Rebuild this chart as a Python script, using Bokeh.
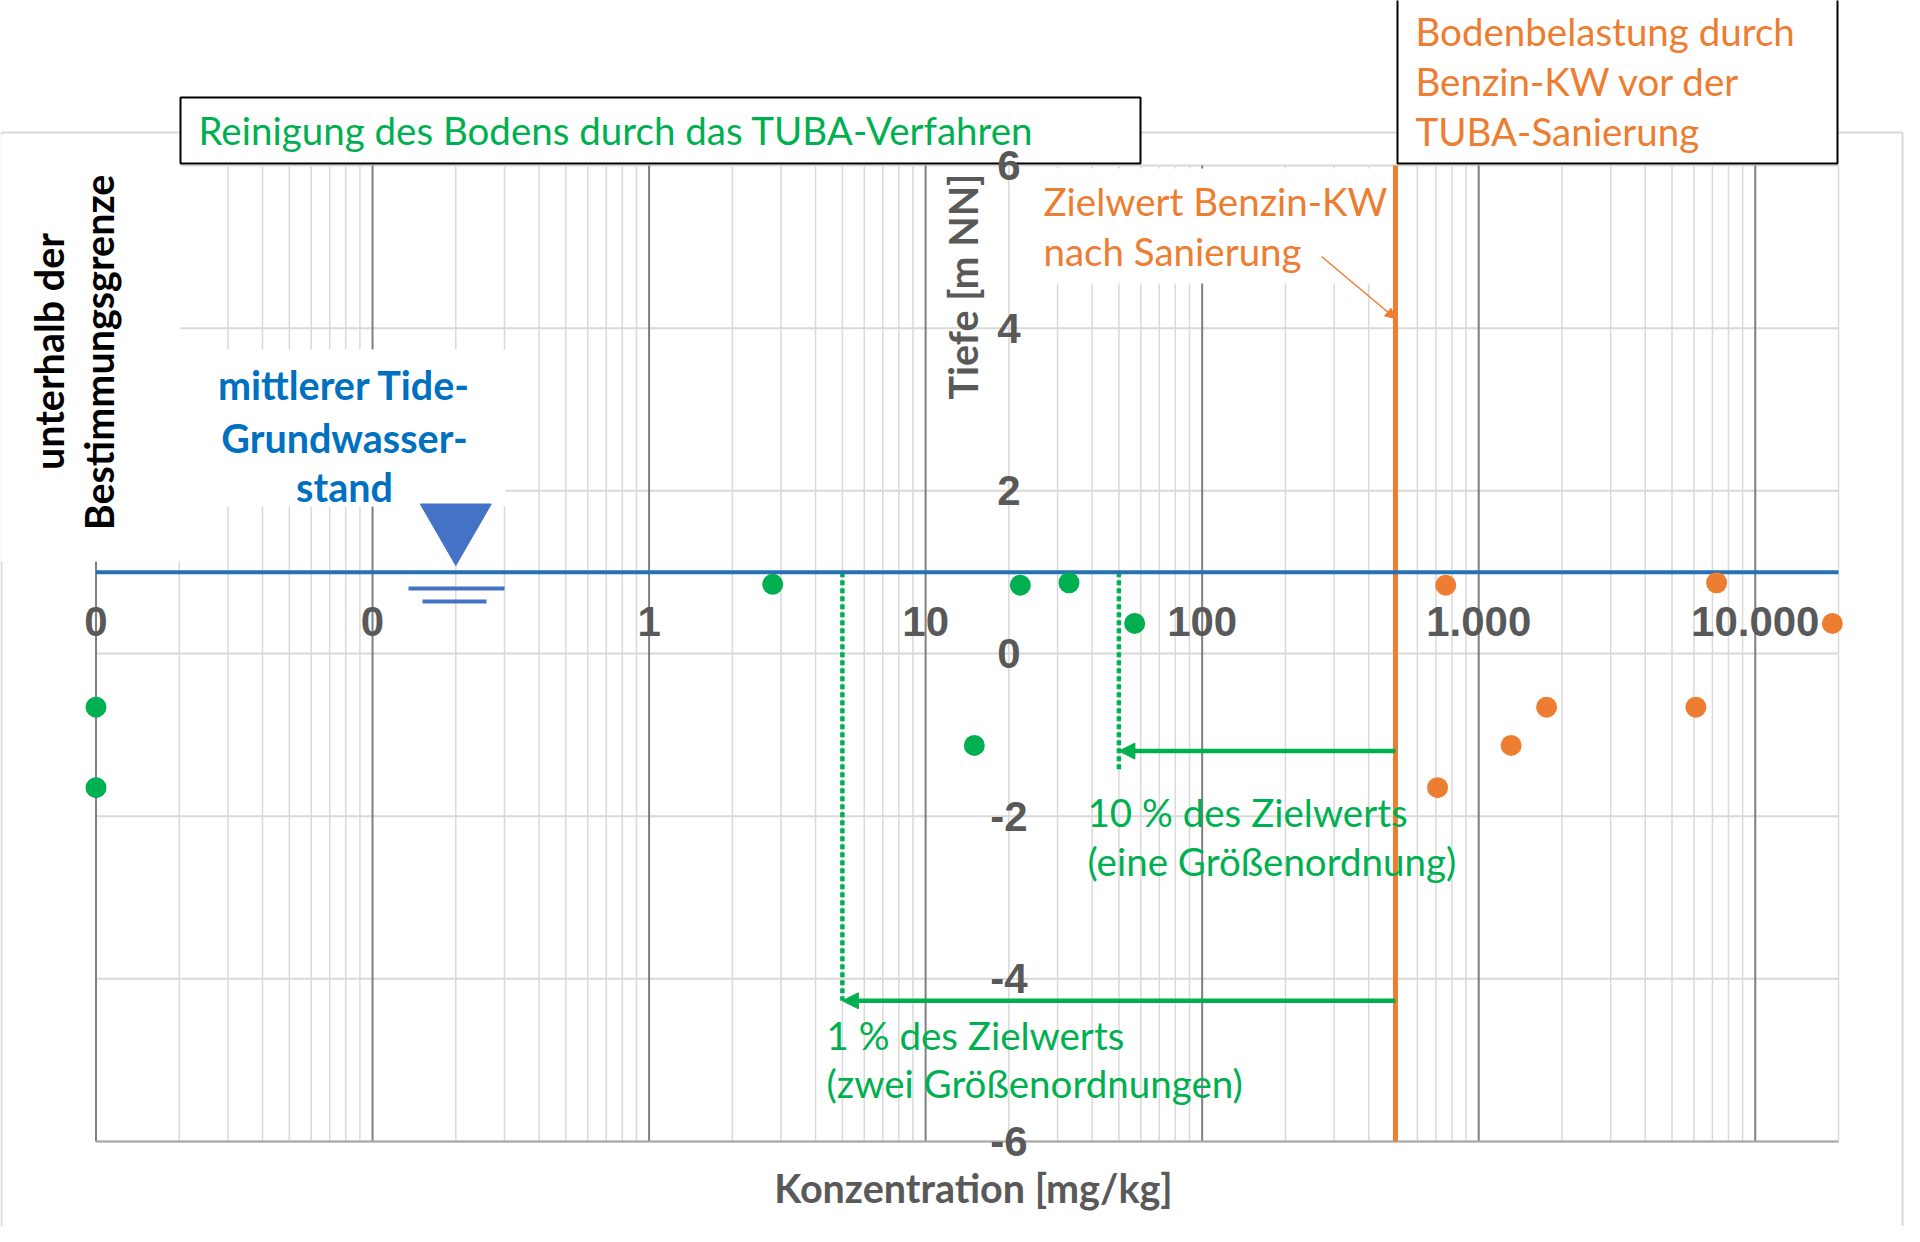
import math
from bokeh.plotting import figure
from bokeh.models import Range1d, Arrow, NormalHead, ColumnDataSource
from bokeh.core.properties import value
from bokeh.embed import file_html
from bokeh.resources import INLINE

# ---------------- data ----------------
green_conc = [0.01, 0.01, 2.8, 15, 22, 33, 57]          # after TUBA remediation
green_depth = [-0.66, -1.65, 0.85, -1.13, 0.84, 0.87, 0.37]
orange_conc = [760, 710, 1310, 1760, 6100, 7250, 19000]  # before remediation
orange_depth = [0.84, -1.65, -1.13, -0.66, -0.66, 0.87, 0.37]

x_ticks = [0.01, 0.1, 1, 10, 100, 1000, 10000]
x_tick_labels = ["0", "0", "1", "10", "100", "1.000", "10.000"]
y_ticks = [6, 4, 2, 0, -2, -4, -6]
y_tick_labels = ["6", "4", "2", "0", "-2", "-4", "-6"]
minor_factors = [2, 3, 4, 5, 6, 7, 8, 9]

x_min, x_max = 0.01, 20000
y_min, y_max = -6, 6
y_label_at = 20          # concentration where depth labels sit
water_level = 1.0        # mittlerer Tide-Grundwasserstand [m NN]
water_mark_x = 0.2
target = 500             # Zielwert Benzin-KW
ten_pct = 50
one_pct = 5
arrow10_y = -1.2
arrow1_y = -4.27
dot10_end = -1.45

# ---------------- layout (pixel frame of the page) ----------------
W, H = 1904, 1226
PL, PR, PT, PB = 95.5, 1838.0, 165.0, 1141.0
DEC = (PR - PL) / math.log10(x_max / x_min)
LX0 = math.log10(x_min) - PL / DEC
LX1 = LX0 + W / DEC
UNIT = (PB - PT) / (y_max - y_min)
Y_TOP = y_max + PT / UNIT
Y_BOT = Y_TOP - H / UNIT


def XD(px):
    return 10 ** (LX0 + px / DEC)


def YD(py):
    return Y_TOP - py / UNIT


GREEN = "#00B050"
ORANGE = "#ED7D31"
GRAY_TXT = "#595959"
BLUE_TXT = "#0070C0"
BLUE_LINE = "#2471B5"
TRI_BLUE = "#4472C4"
FONT = value("Lato")
TFONT = value("Liberation Sans")
REG = "38.5px"
BOLD = "39.5px"

p = figure(width=W, height=H, x_axis_type="log",
           x_range=Range1d(10 ** LX0, 10 ** LX1), y_range=Range1d(Y_BOT, Y_TOP),
           x_axis_location=None, y_axis_location=None,
           toolbar_location=None, output_backend="svg", min_border=0)
p.outline_line_color = None
p.grid.visible = False
p.background_fill_color = "white"
p.border_fill_color = "white"

# chart area border
p.segment(x0=[XD(1), XD(1), XD(1902)], x1=[XD(1902), XD(1), XD(1902)],
          y0=[YD(132), YD(132), YD(132)], y1=[YD(132), YD(1226), YD(1226)],
          line_color="#D9D9D9", line_width=2)

# grid
minor_x = [d * k for d in x_ticks[:-1] for k in minor_factors] + [x_max]
p.segment(x0=[x_min] * len(y_ticks), x1=[x_max] * len(y_ticks), y0=y_ticks, y1=y_ticks,
          line_color="#D9D9D9", line_width=2)
p.segment(x0=minor_x, x1=minor_x, y0=[y_min] * len(minor_x), y1=[y_max] * len(minor_x),
          line_color="#D9D9D9", line_width=1.5)
p.segment(x0=x_ticks, x1=x_ticks, y0=[y_min] * len(x_ticks), y1=[y_max] * len(x_ticks),
          line_color="#7F7F7F", line_width=2)
p.segment(x0=[x_min], x1=[x_max], y0=[y_min], y1=[y_min], line_color="#A6A6A6", line_width=2)

# white cover boxes (text boxes in the original)
p.quad(left=[XD(0), XD(178), XD(1030)], right=[XD(180), XD(505), XD(1390)],
       top=[YD(134), YD(349), YD(168)], bottom=[YD(561), YD(506), YD(283)],
       fill_color="white", line_color=None)

# target line and green markers
p.segment(x0=[target], x1=[target], y0=[y_min], y1=[y_max], line_color=ORANGE, line_width=5)
p.segment(x0=[ten_pct, one_pct], x1=[ten_pct, one_pct], y0=[water_level, water_level],
          y1=[dot10_end, arrow1_y], line_color=GREEN, line_width=4.5, line_dash="5 3")
arr_src = ColumnDataSource(dict(xs=[target, target], ys=[arrow10_y, arrow1_y],
                                xe=[ten_pct, one_pct], ye=[arrow10_y, arrow1_y]))
p.add_layout(Arrow(source=arr_src, x_start="xs", y_start="ys", x_end="xe", y_end="ye",
                   line_color=GREEN, line_width=4.5,
                   end=NormalHead(size=16, fill_color=GREEN, line_color=GREEN)))
p.add_layout(Arrow(x_start=XD(1321), y_start=YD(256), x_end=target, y_end=YD(318),
                   line_color=ORANGE, line_width=1.5,
                   end=NormalHead(size=10, fill_color=ORANGE, line_color=ORANGE)))

# groundwater level
p.segment(x0=[x_min], x1=[x_max], y0=[water_level], y1=[water_level],
          line_color=BLUE_LINE, line_width=4)
p.scatter(x=[water_mark_x], y=[YD(524)], marker="inverted_triangle", size=71,
          fill_color=TRI_BLUE, line_color=TRI_BLUE, line_width=1)
p.segment(x0=[XD(408), XD(422)], x1=[XD(504), XD(486)], y0=[YD(588), YD(601)],
          y1=[YD(588), YD(601)], line_color=TRI_BLUE, line_width=4)

# data points
p.scatter(x=green_conc, y=green_depth, size=21, fill_color=GREEN, line_color=None)
p.scatter(x=orange_conc, y=orange_depth, size=21, fill_color=ORANGE, line_color=None)

# top boxes
p.quad(left=[XD(180), XD(1397)], right=[XD(1140), XD(1837)], top=[YD(97), YD(-6)],
       bottom=[YD(163), YD(163)], fill_color="white", line_color="black", line_width=2)

# tick labels
p.text(x=x_ticks, y=[water_level] * len(x_ticks), text=x_tick_labels, y_offset=49,
       text_align="center", text_baseline="middle", text_font=TFONT,
       text_font_style="bold", text_font_size="42px", text_color=GRAY_TXT)
p.text(x=[y_label_at] * len(y_ticks), y=y_ticks, text=y_tick_labels,
       text_align="center", text_baseline="middle", text_font=TFONT,
       text_font_style="bold", text_font_size="42px", text_color=GRAY_TXT)

# axis titles
p.text(x=[XD(973)], y=[YD(1187)], text=["Konzentration [mg/kg]"], text_align="center",
       text_baseline="middle", text_font=FONT, text_font_style="bold",
       text_font_size=BOLD, text_color=GRAY_TXT)
p.text(x=[XD(962)], y=[YD(286)], text=["Tiefe [m NN]"], angle=math.pi / 2,
       text_align="center", text_baseline="middle", text_font=FONT,
       text_font_style="bold", text_font_size=BOLD, text_color=GRAY_TXT)

# left note
p.text(x=[XD(48), XD(98)], y=[YD(351), YD(352)],
       text=["unterhalb der", "Bestimmungsgrenze"], angle=math.pi / 2,
       text_align="center", text_baseline="middle", text_font=FONT,
       text_font_style="bold", text_font_size=BOLD, text_color="black")

# water level text
p.text(x=[XD(344)] * 3, y=[YD(384), YD(437), YD(486)],
       text=["mittlerer Tide-", "Grundwasser-", "stand"], text_align="center",
       text_baseline="alphabetic", text_font=FONT, text_font_style="bold",
       text_font_size=BOLD, text_color=BLUE_TXT)

# annotations (regular)
p.text(x=[XD(198)], y=[YD(129)], text=["Reinigung des Bodens durch das TUBA-Verfahren"],
       text_align="left", text_baseline="alphabetic", text_font=FONT,
       text_font_size=REG, text_color=GREEN)
p.text(x=[XD(1415)] * 3, y=[YD(30), YD(80), YD(130)],
       text=["Bodenbelastung durch", "Benzin-KW vor der", "TUBA-Sanierung"],
       text_align="left", text_baseline="alphabetic", text_font=FONT,
       text_font_size=REG, text_color=ORANGE)
p.text(x=[XD(1043)] * 2, y=[YD(200), YD(250)],
       text=["Zielwert Benzin-KW", "nach Sanierung"],
       text_align="left", text_baseline="alphabetic", text_font=FONT,
       text_font_size=REG, text_color=ORANGE)
p.text(x=[XD(1087)] * 2 + [XD(826)] * 2, y=[YD(811), YD(860), YD(1034), YD(1082)],
       text=["10 % des Zielwerts", "(eine Größenordnung)", "1 % des Zielwerts",
             "(zwei Größenordnungen)"],
       text_align="left", text_baseline="alphabetic", text_font=FONT,
       text_font_size=REG, text_color=GREEN)

open("out.html", "w").write(file_html(p, INLINE))
